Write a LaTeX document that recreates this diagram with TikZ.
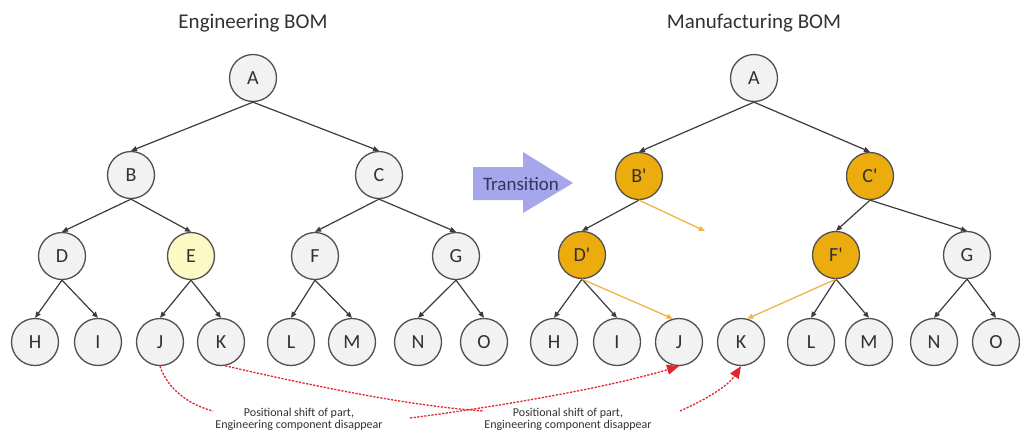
\documentclass[tikz,border=0pt]{standalone}
\usepackage{fontspec}
\newfontfamily\bomfont{Carlito}
\usetikzlibrary{arrows.meta}

\definecolor{partfill}{RGB}{242,242,242}
\definecolor{partline}{RGB}{80,80,80}
\definecolor{lettergray}{RGB}{50,50,50}
\definecolor{mfgfill}{RGB}{236,172,14}
\definecolor{newfill}{RGB}{251,249,196}
\definecolor{edgegray}{RGB}{60,60,60}
\definecolor{shiftorange}{RGB}{240,180,70}
\definecolor{movered}{RGB}{226,36,46}
\definecolor{transfill}{RGB}{166,166,234}
\definecolor{transtext}{RGB}{52,52,96}

\begin{document}
\begin{tikzpicture}[x=1pt,y=-1pt,
  part/.style={circle, draw=partline, line width=1.3pt, fill=partfill,
    minimum size=47pt, inner sep=0pt, text=lettergray,
    font=\bomfont\fontsize{20}{24}\selectfont},
  mfgpart/.style={part, fill=mfgfill},
  newpart/.style={part, fill=newfill},
  title/.style={text=lettergray, font=\bomfont\fontsize{21}{25}\selectfont},
  note/.style={text=lettergray, align=center, inner sep=0pt,
    font=\bomfont\fontsize{12}{11.5}\selectfont},
  link/.style={draw=edgegray, line width=1.2pt, -{Triangle[length=6pt,width=5pt]}},
  shiftlink/.style={draw=shiftorange, line width=1.3pt, -{Triangle[length=6pt,width=5pt]}},
  movepath/.style={draw=movered, line width=1.3pt, dash pattern=on 2.2pt off 1.4pt},
  movehead/.style={movepath, -{Triangle[length=12pt,width=10pt]}}
]
\fill[white] (0,0) rectangle (1020,437);
\useasboundingbox (0,0) rectangle (1020,437);

% titles
\node[title, anchor=base] (ttlE) at (253,28) {Engineering BOM};
\node[title, anchor=base] (ttlM) at (754,28) {Manufacturing BOM};

% engineering BOM
\node[part] (A1) at (253,78) {A};
\node[part] (B1) at (131,175) {B};
\node[part] (C1) at (379,175) {C};
\node[part] (D1) at (62,256) {D};
\node[newpart] (E1) at (191,256) {E};
\node[part] (F1) at (315,256) {F};
\node[part] (G1) at (456,256) {G};
\node[part] (H1) at (35,342) {H};
\node[part] (I1) at (98,342) {I};
\node[part] (J1) at (160,342) {J};
\node[part] (K1) at (221,342) {K};
\node[part] (L1) at (291,342) {L};
\node[part] (M1) at (352,342) {M};
\node[part] (N1) at (418,342) {N};
\node[part] (O1) at (484,342) {O};

\foreach \p/\c in {A1/B1,A1/C1,B1/D1,B1/E1,C1/F1,C1/G1,D1/H1,D1/I1,E1/J1,E1/K1,F1/L1,F1/M1,G1/N1,G1/O1}
  \draw[link] (\p.south) -- (\c.north);

% transition arrow
\fill[transfill] (473,167) -- (523,167) -- (523,152) -- (573,183) -- (523,213) -- (523,200) -- (473,200) -- cycle;
\node[text=transtext, font=\bomfont\fontsize{19}{22}\selectfont] (trans) at (521,184) {Transition};

% manufacturing BOM
\node[part] (A2) at (754,78) {A};
\node[mfgpart] (B2) at (639,176) {B'};
\node[mfgpart] (C2) at (870,176) {C'};
\node[mfgpart] (D2) at (582,255) {D'};
\node[mfgpart] (F2) at (836,255) {F'};
\node[part] (G2) at (967,255) {G};
\node[part] (H2) at (554,342) {H};
\node[part] (I2) at (617,342) {I};
\node[part] (J2) at (679,342) {J};
\node[part] (K2) at (741,342) {K};
\node[part] (L2) at (811,342) {L};
\node[part] (M2) at (869,342) {M};
\node[part] (N2) at (934,342) {N};
\node[part] (O2) at (996,342) {O};

\foreach \p/\c in {A2/B2,A2/C2,B2/D2,C2/F2,C2/G2,D2/H2,D2/I2,F2/L2,F2/M2,G2/N2,G2/O2}
  \draw[link] (\p.south) -- (\c.north);

% re-parented parts
\coordinate (Egone) at (705,231);
\draw[shiftlink] (B2.south) -- (Egone);
\draw[shiftlink] (D2.south) -- (J2.105);
\draw[shiftlink] (F2.south) -- (K2.75);

% notes
\node[note, anchor=base] (lab1) at (299,428) {Positional shift of part,\\Engineering component disappear};
\node[note, anchor=base] (lab2) at (568,428) {Positional shift of part,\\Engineering component disappear};

% moved parts: dashed paths broken by the notes
\coordinate (jIn) at (213,411);
\coordinate (jOut) at (410,418);
\coordinate (kIn) at (484,411);
\coordinate (kOut) at (680,411);
\draw[movepath] (J1.south) .. controls (168,390) and (190,405) .. (jIn);
\draw[movehead] (jOut) .. controls (480,409) and (600,390) .. (J2.south);
\draw[movepath] (K1.-80) .. controls (330,390) and (420,407) .. (kIn);
\draw[movehead] (kOut) .. controls (705,400) and (728,386) .. (K2.south);
\end{tikzpicture}
\end{document}
